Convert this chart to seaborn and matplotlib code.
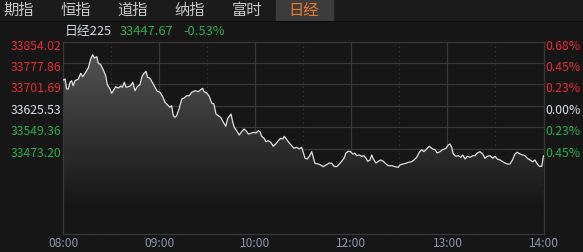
import numpy as np
import matplotlib
matplotlib.use("Agg")
import matplotlib.pyplot as plt
import matplotlib.transforms as mtrans
from matplotlib.patches import Rectangle
from matplotlib.lines import Line2D
from matplotlib.colors import to_rgb
import seaborn as sns

# ---------------- data ----------------
tabs = ["期指", "恒指", "道指", "纳指", "富时", "日经"]
active_tab = "日经"
index_name = "日经225"
last_price = "33447.67"
change_pct = "-0.53%"
prev_close = 33625.53
price_levels = [33854.02, 33777.86, 33701.69, 33625.53, 33549.36, 33473.20]
pct_labels = ["0.68%", "0.45%", "0.23%", "0.00%", "0.23%", "0.45%"]
time_ticks = [0, 60, 120, 180, 240, 300]
time_labels = ["08:00", "09:00", "10:00", "12:00", "13:00", "14:00"]

times = [0, 1.1, 2.1, 3.1, 4.2, 5.2, 6.2, 7.3, 9.4, 10.9, 12.1, 13.6, 15.6, 17.1,
         18.4, 19.4, 20.9, 21.9, 23.4, 25.0, 26.5, 27.5, 29.2, 30.2, 31.2, 32.7,
         34.4, 36.0, 36.9, 38.1, 39.2, 40.6, 42.1, 43.4, 44.8, 46.2, 47.9, 49.2,
         50.4, 51.7, 52.7, 54.2, 55.6, 57.3, 58.7, 60.4, 62.1, 63.5, 65.0, 66.6,
         67.7, 68.7, 69.8, 70.8, 72.3, 74.0, 75.4, 77.1, 78.7, 80.2, 82.3, 84.3,
         85.8, 87.1, 87.9, 89.6, 91.2, 92.7, 94.1, 95.4, 96.8, 98.3, 100.0, 101.5,
         102.7, 103.7, 104.8, 105.8, 106.8, 108.3, 109.9, 111.4, 112.9, 114.1,
         115.6, 117.3, 118.7, 120.4, 121.8, 122.9, 123.9, 125.4, 126.6, 128.1,
         129.6, 131.2, 132.7, 134.3, 135.8, 137.1, 138.1, 139.6, 141.2, 142.7,
         144.1, 145.8, 147.4, 148.9, 149.9, 151.0, 152.4, 153.7, 155.2, 156.2,
         157.2, 159.3, 160.8, 162.4, 164.1, 166.2, 167.7, 169.1, 170.8, 172.4,
         173.9, 175.4, 176.6, 178.0, 179.5, 180.8, 182.2, 183.3, 184.9, 186.4,
         187.8, 189.1, 190.2, 191.6, 192.7, 193.7, 195.3, 196.8, 198.3, 199.9,
         201.6, 203.0, 205.2, 207.2, 209.3, 210.3, 212.0, 214.1, 215.5, 217.6,
         219.1, 220.8, 222.4, 223.9, 225.3, 227.0, 228.6, 230.8, 232.2, 233.6,
         235.3, 237.0, 239.1, 240.5, 241.6, 242.6, 243.6, 245.3, 246.8, 248.3,
         249.5, 251.0, 252.4, 254.1, 255.8, 257.2, 258.6, 260.3, 262.0, 263.4,
         264.9, 266.6, 268.3, 269.7, 271.1, 272.8, 274.5, 275.9, 277.4, 279.1,
         280.7, 282.2, 283.6, 285.3, 287.0, 288.4, 289.9, 291.6, 293.2, 294.7,
         296.1, 297.4, 298.9, 300.0]

prices = [33717.5, 33721.1, 33685.4, 33685.4, 33709.3, 33715.0, 33697.2, 33715.0,
          33721.1, 33741.4, 33729.3, 33741.4, 33760.3, 33792.4, 33807.7, 33795.9,
          33800.6, 33777.0, 33772.0, 33753.2, 33732.8, 33700.8, 33685.4, 33670.1,
          33679.4, 33693.6, 33689.0, 33696.1, 33691.5, 33709.3, 33691.5, 33693.6,
          33697.2, 33709.3, 33679.4, 33693.6, 33700.8, 33730.7, 33741.4, 33748.5,
          33727.1, 33723.6, 33709.3, 33691.5, 33677.2, 33673.7, 33658.0, 33638.0,
          33629.5, 33620.2, 33625.9, 33590.3, 33584.6, 33590.3, 33614.2, 33649.8,
          33653.4, 33661.6, 33661.6, 33673.7, 33679.4, 33675.8, 33682.9, 33687.9,
          33675.8, 33671.2, 33659.4, 33635.5, 33632.0, 33596.3, 33590.3, 33584.6,
          33566.8, 33552.5, 33581.0, 33588.1, 33596.3, 33568.9, 33548.9, 33536.8,
          33521.5, 33533.2, 33542.9, 33536.8, 33525.1, 33527.5, 33531.1, 33528.6,
          33536.8, 33533.2, 33516.9, 33509.7, 33497.6, 33501.2, 33495.5, 33481.2,
          33489.4, 33501.2, 33509.7, 33507.2, 33516.9, 33504.7, 33493.0, 33483.4,
          33474.1, 33477.7, 33471.6, 33477.7, 33459.8, 33438.5, 33436.0, 33445.6,
          33462.0, 33442.0, 33420.6, 33418.1, 33414.6, 33408.5, 33414.6, 33421.7,
          33420.6, 33409.9, 33408.5, 33418.1, 33427.8, 33438.5, 33457.3, 33463.4,
          33462.0, 33453.8, 33456.3, 33447.7, 33450.2, 33445.6, 33447.7, 33438.5,
          33427.8, 33432.4, 33450.2, 33436.0, 33421.7, 33427.8, 33432.4, 33427.8,
          33418.1, 33412.1, 33412.1, 33408.5, 33406.4, 33414.6, 33418.1, 33420.6,
          33424.2, 33426.3, 33432.4, 33442.0, 33459.8, 33469.1, 33462.0, 33471.6,
          33481.2, 33471.6, 33469.1, 33457.3, 33462.0, 33469.1, 33474.1, 33485.9,
          33489.4, 33477.7, 33453.8, 33445.6, 33447.7, 33442.0, 33450.2, 33436.0,
          33445.6, 33442.0, 33447.7, 33447.7, 33457.3, 33462.0, 33453.8, 33438.5,
          33445.6, 33447.7, 33438.5, 33445.6, 33436.0, 33432.4, 33426.3, 33421.7,
          33418.1, 33418.1, 33433.5, 33453.8, 33459.8, 33453.8, 33450.2, 33447.7,
          33438.5, 33432.4, 33426.3, 33432.4, 33418.1, 33409.9, 33409.9, 33447.67]

# ---------------- style ----------------
BG = "#161616"
TABBAR = "#1b1b1b"
ACTIVE = "#3c3c3c"
GRID = "#383838"
RED = "#e8282e"
GREEN = "#20b04b"
NEUTRAL = "#d8dfea"
XLAB = "#8496ad"

sns.set_theme(style="dark")
plt.rcParams["font.family"] = ["Noto Sans CJK SC", "DejaVu Sans"]
plt.rcParams["axes.unicode_minus"] = False

W, H = 583, 253
fig = plt.figure(figsize=(W / 100, H / 100), dpi=100, facecolor=BG)


def fx(px):
    return px / W


def fy(py):
    return 1 - py / H


# tab bar
fig.add_artist(Rectangle((0, fy(21)), 1, 21 / H, transform=fig.transFigure,
                         color=TABBAR, zorder=0))
fig.add_artist(Line2D([0, 1], [fy(21.5), fy(21.5)], transform=fig.transFigure,
                      color="#0c0c0c", lw=0.8))
tab_w = 57
for i, t in enumerate(tabs):
    cx = 19 + i * tab_w
    if t == active_tab:
        fig.add_artist(Rectangle((fx(276), fy(21)), fx(57), 21 / H,
                                 transform=fig.transFigure, color=ACTIVE, zorder=1))
        col = "#f07a2c"
    else:
        col = "#c9c9c9"
    fig.text(fx(cx), fy(10.5), t, color=col, fontsize=11, ha="center", va="center")

# header
fig.text(fx(65), fy(32), index_name, color="#d0d6e0", fontsize=9.3, ha="left", va="center")
fig.text(fx(120), fy(32), last_price, color=GREEN, fontsize=9.3, ha="left", va="center")
fig.text(fx(183), fy(32), change_pct, color=GREEN, fontsize=9.3, ha="left", va="center")

# axes
ax = fig.add_axes([fx(63.3), 18 / H, 480.2 / W, 192.3 / H])
ax.set_facecolor(BG)
step = price_levels[0] - price_levels[1]
ytop = price_levels[0]
ybot = ytop - 9 * step
ax.set_xlim(0, 300)
ax.set_ylim(ybot, ytop)
ax.set_xticks([])
ax.set_yticks([])
for s in ["left", "bottom", "right", "top"]:
    ax.spines[s].set_color(GRID)
    ax.spines[s].set_linewidth(0.9)

for k in range(1, 9):
    ax.axhline(ytop - k * step, color=GRID, lw=0.9, zorder=0.5)
for xv in time_ticks[1:-1]:
    ax.axvline(xv, color=GRID, lw=0.9, zorder=0.5)
for xv in [30, 90, 150, 210, 270]:
    ax.axvline(xv, color="#3c3c3c", lw=0.8, ls=(0, (1, 3)), zorder=0.5)

# gradient fill under the line
poly = ax.fill_between(times, prices, ybot, color="none", lw=0)
n = 256
top_c = np.array(to_rgb("#575757"))
bot_c = np.array(to_rgb(BG))
f = np.clip(np.linspace(0, 1, n) / 0.85, 0, 1)[:, None]
grad = top_c * (1 - f) + bot_c * f
img = np.dstack([np.repeat(grad[:, None, 0], 2, axis=1),
                 np.repeat(grad[:, None, 1], 2, axis=1),
                 np.repeat(grad[:, None, 2], 2, axis=1)])
im = ax.imshow(img, extent=[0, 300, ybot, ytop], aspect="auto", origin="upper",
               zorder=1, interpolation="bilinear")
im.set_clip_path(poly.get_paths()[0], transform=ax.transData)
ax.set_xlim(0, 300)
ax.set_ylim(ybot, ytop)

sns.lineplot(x=times, y=prices, ax=ax, color="#e0e0e0", lw=0.9, estimator=None,
             sort=False, zorder=3)
ax.set_xlabel("")
ax.set_ylabel("")

# y labels
tl = mtrans.offset_copy(ax.get_yaxis_transform(), fig=fig, x=-2, y=-3.5, units="dots")
tr = mtrans.offset_copy(ax.get_yaxis_transform(), fig=fig, x=2, y=-3.5, units="dots")
for v, p in zip(price_levels, pct_labels):
    if v > prev_close + 1e-6:
        c = RED
    elif abs(v - prev_close) < 1e-6:
        c = NEUTRAL
    else:
        c = GREEN
    ax.text(0, v, f"{v:.2f}", transform=tl, color=c, fontsize=8.8, ha="right",
            va="center", clip_on=False)
    ax.text(1, v, p, transform=tr, color=c, fontsize=8.8, ha="left",
            va="center", clip_on=False)

# x labels
tx = mtrans.offset_copy(ax.get_xaxis_transform(), fig=fig, x=0, y=-8.5, units="dots")
for xv, lab in zip(time_ticks, time_labels):
    ax.text(xv, 0, lab, transform=tx, color=XLAB, fontsize=8.6, ha="center",
            va="center", clip_on=False)

fig.savefig("out.png", dpi=100, facecolor=BG)
